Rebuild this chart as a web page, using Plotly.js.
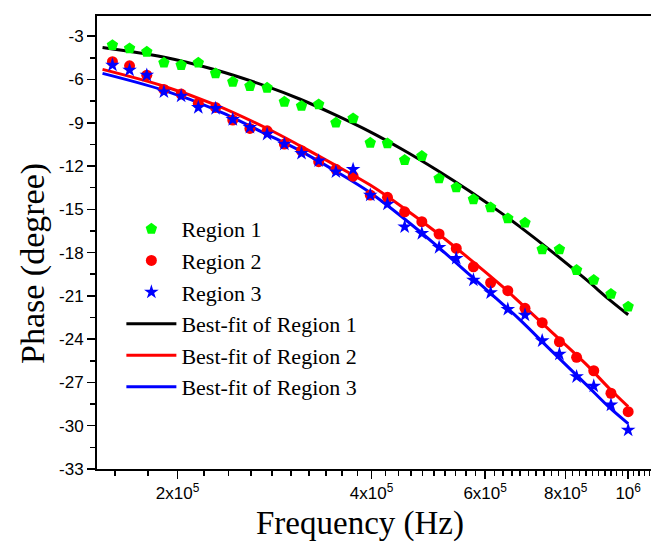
<!DOCTYPE html>
<html><head><meta charset="utf-8">
<script src="https://cdn.plot.ly/plotly-3.0.1.min.js"></script>
<style>html,body{margin:0;padding:0;background:#fff}#chart{width:651px;height:551px}</style>
</head><body><div id="chart"></div>
<script>
// Measured frequencies (Hz), shared by the three regions
const frequency = [158500, 168500, 179200, 190500, 202600, 215400, 229100, 243600, 259000, 275400,
  292900, 311400, 331100, 352100, 374400, 398100, 423300, 450100, 478600, 509000,
  541200, 575400, 611900, 650600, 691800, 735600, 782300, 831800, 884400, 940400, 1000000];
const region1 = [-3.62, -3.85, -4.08, -4.84, -5.00, -4.84, -5.58, -6.16, -6.46, -6.58,
  -7.55, -7.84, -7.73, -9.00, -8.70, -10.39, -10.43, -11.59, -11.31, -12.86,
  -13.48, -14.31, -14.87, -15.63, -15.93, -17.78, -17.78, -19.21, -19.90, -20.87, -21.75];
const region2 = [-4.77, -5.05, -5.70, -6.69, -7.01, -7.66, -7.94, -8.81, -9.39, -9.56,
  -10.48, -10.94, -11.70, -12.23, -12.70, -14.01, -14.17, -15.17, -15.86, -16.71,
  -17.71, -18.98, -20.09, -20.64, -21.86, -22.86, -24.18, -25.26, -26.19, -27.75, -29.03];
const region3 = [-5.00, -5.35, -5.70, -6.86, -7.15, -7.94, -8.01, -8.77, -9.32, -9.79,
  -10.48, -11.12, -11.64, -12.40, -12.23, -14.01, -14.64, -16.21, -16.67, -17.64,
  -18.40, -19.90, -20.78, -21.93, -22.33, -24.11, -25.03, -26.60, -27.25, -28.56, -30.30];

// Best-fit curves
const fitFrequency = [153000, 190000, 228000, 275000, 310000, 350000, 398000, 448000,
  504000, 568000, 640000, 679000, 764000, 861000, 936000, 1000000];
const fit1 = [-3.78, -4.44, -5.31, -6.48, -7.37, -8.42, -9.63, -10.89,
  -12.26, -13.75, -15.35, -16.20, -17.98, -19.88, -21.28, -22.31];
const fit2 = [-5.30, -6.45, -7.72, -9.38, -10.60, -11.90, -13.32, -14.89,
  -16.59, -18.45, -20.40, -21.45, -23.58, -25.75, -27.44, -28.68];
const fit3 = [-5.58, -6.74, -8.05, -9.80, -10.95, -12.30, -13.85, -15.60,
  -17.50, -19.55, -21.60, -22.65, -24.90, -27.15, -28.75, -29.85];

const seriesNames = ['Region 1', 'Region 2', 'Region 3',
  'Best-fit of Region 1', 'Best-fit of Region 2', 'Best-fit of Region 3'];

const xTickVals = [200000, 400000, 600000, 800000, 1000000];
const xTickText = ['2x10<sup>5</sup>', '4x10<sup>5</sup>', '6x10<sup>5</sup>', '8x10<sup>5</sup>', '10<sup>6</sup>'];
const yTickVals = [-33, -30, -27, -24, -21, -18, -15, -12, -9, -6, -3];
const yTickText = ['-33', '-30', '-27', '-24', '-21', '-18', '-15', '-12', '-9', '-6', '-3'];

// minor x ticks every 2x10^4
const xMinor = [];
for (let k = 8; k <= 54; k++) { if (k % 10 !== 0) xMinor.push(k * 20000); }

const serif = '"Liberation Serif", "Times New Roman", serif';
const sans = '"Liberation Sans", Arial, sans-serif';

const traces = [
  {x: fitFrequency, y: fit1, name: seriesNames[3], mode: 'lines', line: {color: '#000000', width: 3, shape: 'spline'}, legendrank: 4},
  {x: fitFrequency, y: fit2, name: seriesNames[4], mode: 'lines', line: {color: '#ff0000', width: 3, shape: 'spline'}, legendrank: 5},
  {x: fitFrequency, y: fit3, name: seriesNames[5], mode: 'lines', line: {color: '#0000ff', width: 3, shape: 'spline'}, legendrank: 6},
  {x: frequency, y: region1, name: seriesNames[0], mode: 'markers', marker: {symbol: 'pentagon', size: 12, color: '#00ff00'}, legendrank: 1},
  {x: frequency, y: region2, name: seriesNames[1], mode: 'markers', marker: {symbol: 'circle', size: 11, color: '#ff0000'}, legendrank: 2},
  {x: frequency, y: region3, name: seriesNames[2], mode: 'markers', marker: {symbol: 'star', size: 11, color: '#0000ff'}, legendrank: 3}
];

const layout = {
  width: 651, height: 551,
  margin: {l: 97, r: 0, t: 16, b: 82, pad: 0},
  paper_bgcolor: '#ffffff', plot_bgcolor: '#ffffff',
  showlegend: true,
  legend: {x: 0.044, y: 0.576, xanchor: 'left', yanchor: 'top', bgcolor: 'rgba(0,0,0,0)',
    font: {family: serif, size: 22, color: '#000'}, itemwidth: 50, tracegroupgap: 0},
  xaxis: {type: 'log', range: [Math.log10(150000), Math.log10(1085000)],
    showline: true, linecolor: '#000', linewidth: 2, mirror: true,
    showgrid: false, zeroline: false,
    tickmode: 'array', tickvals: xTickVals, ticktext: xTickText,
    ticks: 'outside', ticklen: 8, tickwidth: 1.5, tickcolor: '#000',
    minor: {tickmode: 'array', tickvals: xMinor, ticks: 'outside', ticklen: 5, tickwidth: 1.5, tickcolor: '#000', showgrid: false},
    tickfont: {family: sans, size: 17, color: '#000'}},
  yaxis: {range: [-33, -1.6],
    showline: true, linecolor: '#000', linewidth: 2, mirror: false,
    showgrid: false, zeroline: false,
    tickmode: 'array', tickvals: yTickVals, ticktext: yTickText,
    ticks: 'outside', ticklen: 8, tickwidth: 1.5, tickcolor: '#000',
    minor: {dtick: 1.5, tick0: -33, ticks: 'outside', ticklen: 5, tickwidth: 1.5, tickcolor: '#000', showgrid: false},
    tickfont: {family: sans, size: 17, color: '#000'}},
  annotations: [
    {text: 'Frequency (Hz)', xref: 'paper', yref: 'paper', x: (360 - 97) / 554, y: (469 - 523) / 453,
     xanchor: 'center', yanchor: 'middle', showarrow: false,
     font: {family: serif, size: 33, color: '#000'}},
    {text: 'Phase (degree)', xref: 'paper', yref: 'paper', x: (33 - 97) / 554, y: (469 - 264) / 453,
     xanchor: 'center', yanchor: 'middle', textangle: -90, showarrow: false,
     font: {family: serif, size: 34, color: '#000'}}
  ]
};

Plotly.newPlot('chart', traces, layout, {displayModeBar: false, staticPlot: true});
</script>
</body></html>
